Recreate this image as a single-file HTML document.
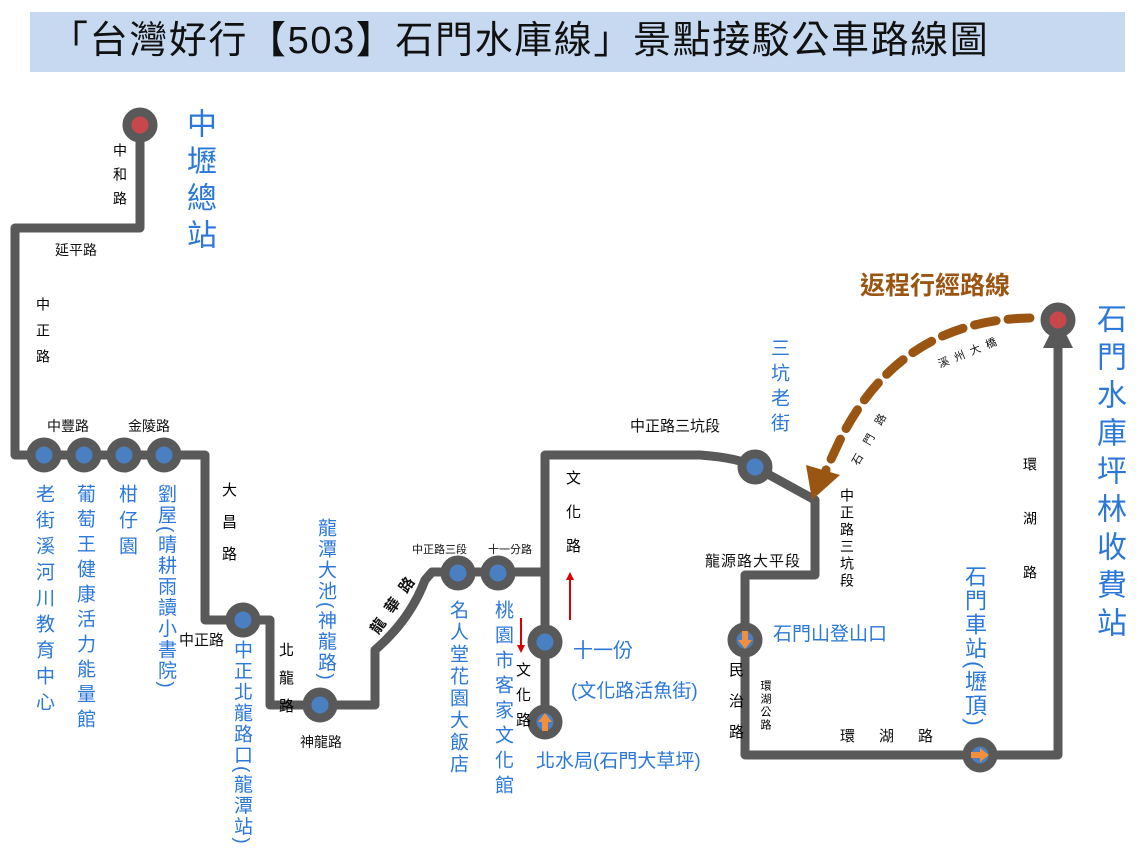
<!DOCTYPE html>
<html><head><meta charset="utf-8"><style>
body{margin:0;background:#fff;}
#c{position:relative;width:1137px;height:853px;overflow:hidden;font-family:"Liberation Sans","Noto Sans CJK TC",sans-serif;}
.t{position:absolute;white-space:nowrap;color:#111;}
.v{position:absolute;writing-mode:vertical-rl;white-space:nowrap;}
.b{color:#2b78d8;}
</style></head><body><div id="c">
<div style="position:absolute;left:30px;top:12px;width:1095px;height:60px;background:#c6d9f0;"></div>
<div class="t" style="left:50px;top:15px;font-size:38px;letter-spacing:1.6px;line-height:52px;color:#111;">「台灣好行【503】石門水庫線」景點接駁公車路線圖</div>
<svg width="1137" height="853" style="position:absolute;left:0;top:0">
<g fill="none" stroke="#595959" stroke-width="9" stroke-linejoin="round">
<path d="M140 125 V228 H15 V455 H205 V620 H270 V705 H375 V650 Q410 620 425 580 L432 572 H545"/>
<path d="M545 722 V455 H700 Q740 458 755 467 L815 500 V575 H745 V755 H1058 V340"/>
</g>
<polygon points="1058,318 1043,348 1073,348" fill="#595959"/>
<path d="M1030 318 Q900 320 840 440 L826 470" fill="none" stroke="#9b5512" stroke-width="9" stroke-dasharray="22,12" stroke-linecap="round"/>
<polygon points="812,500 806,465 840,475" fill="#9b5512"/>
<g stroke="#595959" stroke-width="9">
<circle cx="140" cy="125" r="13" fill="#c8474a"/>
<circle cx="1058" cy="320" r="13" fill="#c8474a"/>
<circle cx="44" cy="455" r="13" fill="#4a7fc1"/>
<circle cx="84" cy="455" r="13" fill="#4a7fc1"/>
<circle cx="124" cy="455" r="13" fill="#4a7fc1"/>
<circle cx="164" cy="455" r="13" fill="#4a7fc1"/>
<circle cx="243" cy="620" r="13" fill="#4a7fc1"/>
<circle cx="320" cy="705" r="13" fill="#4a7fc1"/>
<circle cx="458" cy="573" r="13" fill="#4a7fc1"/>
<circle cx="498" cy="573" r="13" fill="#4a7fc1"/>
<circle cx="545" cy="642" r="13" fill="#4a7fc1"/>
<circle cx="755" cy="467" r="13" fill="#4a7fc1"/>
<circle cx="545" cy="722" r="13" fill="#4a7fc1"/>
<circle cx="745" cy="640" r="13" fill="#4a7fc1"/>
<circle cx="980" cy="755" r="13" fill="#4a7fc1"/>
</g>
<g fill="#f0903c">
<polygon points="545,713 538,722 542,722 542,731 548,731 548,722 552,722"/>
<polygon points="745,649 738,640 742,640 742,631 748,631 748,640 752,640"/>
<polygon points="989,755 980,748 980,752 971,752 971,758 980,758 980,762"/>
</g>
<g stroke="#d00" stroke-width="2" fill="#d00">
<line x1="521" y1="618" x2="521" y2="645"/><polygon points="517,645 525,645 521,653" stroke="none"/>
<line x1="570" y1="620" x2="570" y2="580"/><polygon points="566,580 574,580 570,572" stroke="none"/>
</g>
<g font-family="Liberation Sans, Noto Sans CJK TC, sans-serif" font-size="11" fill="#111">
<text transform="translate(940,368) rotate(-22)" letter-spacing="6">溪州大橋</text>
<text transform="translate(858,466) rotate(-60)" letter-spacing="12">石門路</text>
<text transform="translate(378,635) rotate(-55)" font-size="15" font-weight="bold" letter-spacing="10">龍華路</text>
</g>
</svg>
<div class="v b" style="left:176px;top:108px;font-size:30px;letter-spacing:7px;">中壢總站</div>
<div class="v b" style="left:1086px;top:303px;font-size:30px;letter-spacing:8px;">石門水庫坪林收費站</div>
<div class="t" style="left:860px;top:266px;font-size:25px;font-weight:bold;color:#9b5512;">返程行經路線</div>
<div class="v" style="left:110px;top:143px;font-size:14px;letter-spacing:10px;">中和路</div>
<div class="t" style="left:55px;top:240px;font-size:14px;">延平路</div>
<div class="v" style="left:33px;top:297px;font-size:14px;letter-spacing:12px;">中正路</div>
<div class="t" style="left:47px;top:416px;font-size:14px;">中豐路</div>
<div class="t" style="left:128px;top:416px;font-size:14px;">金陵路</div>
<div class="v" style="left:218px;top:482px;font-size:15px;letter-spacing:17px;">大昌路</div>
<div class="t" style="left:179px;top:629px;font-size:15px;">中正路</div>
<div class="v" style="left:275px;top:642px;font-size:15px;letter-spacing:13px;">北龍路</div>
<div class="t" style="left:300px;top:732px;font-size:14px;">神龍路</div>
<div class="t" style="left:412px;top:541px;font-size:11px;">中正路三段</div>
<div class="t" style="left:488px;top:541px;font-size:11px;">十一分路</div>
<div class="v" style="left:562px;top:470px;font-size:15px;letter-spacing:19px;">文化路</div>
<div class="v" style="left:512px;top:662px;font-size:15px;letter-spacing:10px;">文化路</div>
<div class="t" style="left:630px;top:415px;font-size:15px;">中正路三坑段</div>
<div class="t" style="left:705px;top:550px;font-size:15px;letter-spacing:1px;">龍源路大平段</div>
<div class="v" style="left:837px;top:488px;font-size:14px;letter-spacing:3px;">中正路三坑段</div>
<div class="v" style="left:725px;top:662px;font-size:15px;letter-spacing:16px;">民治路</div>
<div class="v" style="left:757px;top:680px;font-size:11px;letter-spacing:2px;">環湖公路</div>
<div class="t" style="left:840px;top:725px;font-size:15px;letter-spacing:24px;">環湖路</div>
<div class="v" style="left:1020px;top:457px;font-size:14px;letter-spacing:40px;">環湖路</div>
<div class="v b" style="left:30px;top:484px;font-size:19px;letter-spacing:7px;">老街溪河川教育中心</div>
<div class="v b" style="left:71px;top:484px;font-size:19px;letter-spacing:6px;">葡萄王健康活力能量館</div>
<div class="v b" style="left:113px;top:484px;font-size:19px;letter-spacing:7px;">柑仔園</div>
<div class="v b" style="left:154px;top:484px;font-size:19px;line-height:22px;letter-spacing:2px;">劉屋(晴耕雨讀小書院)</div>
<div class="v b" style="left:230px;top:640px;font-size:19px;line-height:22px;letter-spacing:2px;">中正北龍路口(龍潭站)</div>
<div class="v b" style="left:314px;top:518px;font-size:19px;line-height:22px;letter-spacing:2px;">龍潭大池(神龍路)</div>
<div class="v b" style="left:444px;top:600px;font-size:19px;letter-spacing:3px;">名人堂花園大飯店</div>
<div class="v b" style="left:489px;top:600px;font-size:19px;letter-spacing:6px;">桃園市客家文化館</div>
<div class="t b" style="left:573px;top:634px;font-size:20px;">十一份</div>
<div class="t b" style="left:571px;top:676px;font-size:19px;">(文化路活魚街)</div>
<div class="t b" style="left:536px;top:746px;font-size:19px;">北水局(石門大草坪)</div>
<div class="v b" style="left:765px;top:338px;font-size:19px;letter-spacing:6px;">三坑老街</div>
<div class="t b" style="left:773px;top:619px;font-size:19px;">石門山登山口</div>
<div class="v b" style="left:962px;top:565px;font-size:22px;line-height:24px;letter-spacing:2px;">石門車站(壢頂)</div>
</div></body></html>
